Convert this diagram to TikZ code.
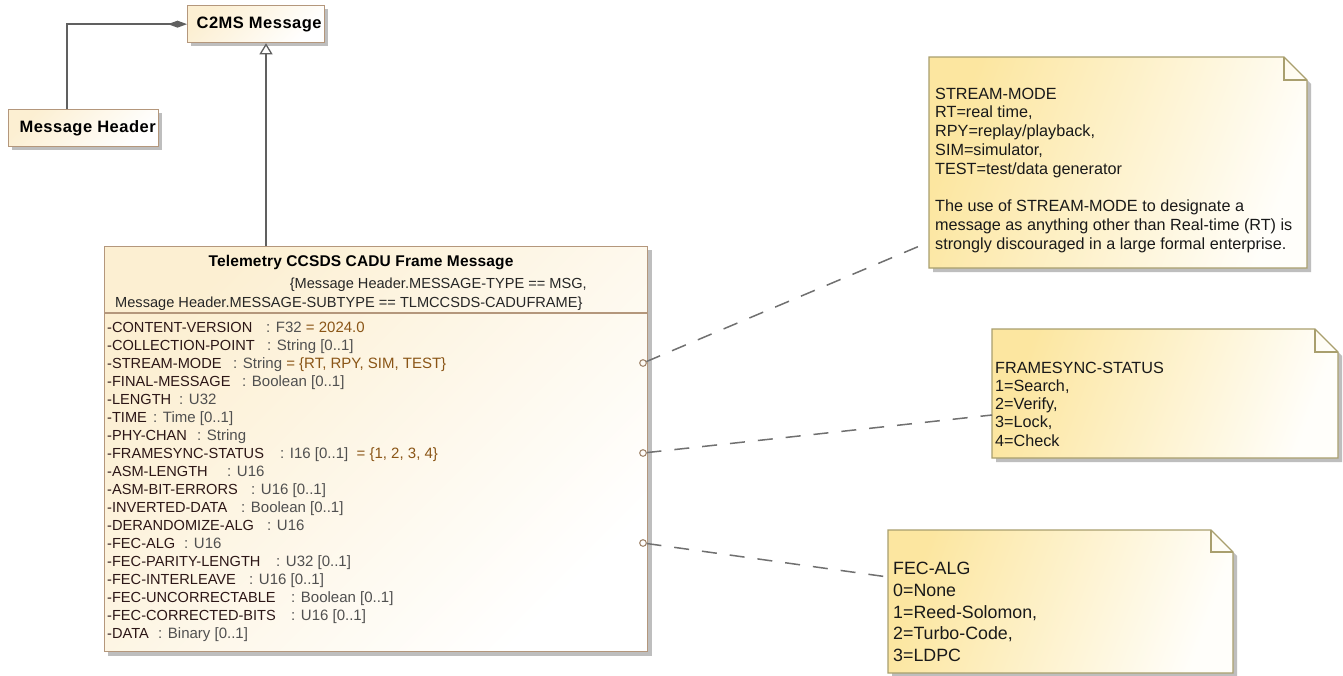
\documentclass[tikz,border=0pt]{standalone}
\usepackage{fontspec}
\setmainfont{Liberation Sans}
\usetikzlibrary{arrows.meta,calc}

\definecolor{clsborder}{HTML}{B4977C}
\definecolor{clsfill}{HTML}{FCEFD2}
\definecolor{notefill}{HTML}{FCE6A0}
\definecolor{notewhite}{HTML}{FFFEFA}
\definecolor{noteborder}{HTML}{A99F6E}
\definecolor{linegray}{HTML}{606060}
\definecolor{attrname}{HTML}{2C1616}
\definecolor{attrtype}{HTML}{505050}
\definecolor{attrval}{HTML}{8A5516}
\definecolor{shadowgray}{HTML}{BEBEBE}

\tikzset{
  classbox/.style={draw=clsborder, line width=1.3pt, top color=clsfill,
    bottom color=white, shading angle=45, inner sep=0pt, anchor=north west},
  boxtitle/.style={font=\fontsize{16.5}{19}\selectfont\bfseries\addfontfeature{LetterSpace=3}, text=black},
  clsline/.style={draw=clsborder, line width=1.3pt},
  attrn/.style={anchor=base west, inner sep=0pt, text=attrname,
    font=\fontsize{14.6}{18}\selectfont},
  attrt/.style={anchor=base west, inner sep=0pt, text=attrtype,
    font=\fontsize{15}{18}\selectfont},
  constr/.style={inner sep=0pt, text=black!85,
    font=\fontsize{14.6}{18}\selectfont},
  notebody/.style={draw=noteborder, line width=1.3pt, top color=notefill,
    bottom color=notewhite, shading angle=70},
  noteline/.style={draw=noteborder, line width=1.3pt},
  notetext/.style={anchor=north west, inner sep=0pt, align=left, text=black!90},
  conn/.style={draw=linegray, line width=1.8pt},
  gen/.style={conn, -{Triangle[open, length=11pt, width=13pt, line width=1.3pt, fill=white]}},
  comp/.style={conn, -{Diamond[length=19pt, width=7pt]}},
  notelink/.style={draw=linegray!90, line width=1.5pt, dash pattern=on 15pt off 13pt,
    shorten <=3.5pt},
  port/.style={draw=clsborder!90!black, line width=1.1pt},
}

% attribute row: id, baseline y, name, x of the colon, type and value
\newcommand\umlattr[5]{%
  \node[attrn] (an#1) at (107,#2) {#3};
  \node[attrt] (at#1) at (#4,#2) {#5};
}
\newcommand\val[1]{\textcolor{attrval}{#1}}

% note with a folded corner: name, x1, y1, x2, y2, fold size
\newcommand\umlnote[6]{%
  \fill[shadowgray] ({#2+4},{#3+4}) -- ({#4+4-#6},{#3+4}) -- ({#4+4},{#3+4+#6})
    -- ({#4+4},{#5+4}) -- ({#2+4},{#5+4}) -- cycle;
  \path[notebody] (#2,#3) coordinate (#1nw) -- ({#4-#6},#3) -- (#4,{#3+#6})
    -- (#4,#5) coordinate (#1se) -- (#2,#5) -- cycle;
  \draw[noteline] ({#4-#6},#3) -- ({#4-#6},{#3+#6}) -- (#4,{#3+#6});
}

\begin{document}
\begin{tikzpicture}[x=1pt, y=-1pt]
\useasboundingbox (0,0) rectangle (1343,675);
\fill[white] (0,0) rectangle (1343,675);

% ---- class boxes ----
\fill[shadowgray] (191,9) rectangle (328,46);
\node[classbox, minimum width=137pt, minimum height=37pt] (c2) at (187,5) {};
\node[boxtitle] (c2t) at ($(c2.center)+(3,0)$) {C2MS Message};

\fill[shadowgray] (12,113) rectangle (162,150);
\node[classbox, minimum width=150pt, minimum height=37pt] (mh) at (8,109) {};
\node[boxtitle] (mht) at ($(mh.center)+(4,0)$) {Message Header};

\fill[shadowgray] (108,250) rectangle (652,656);
\node[classbox, minimum width=543pt, minimum height=405pt] (cls) at (104,246) {};
\draw[clsline] ($(cls.north west)+(0,67)$) -- ($(cls.north east)+(0,67)$);

\node[anchor=base, text=black, font=\fontsize{15.5}{19}\selectfont\bfseries\addfontfeature{LetterSpace=1}]
  (clst) at (361,266.5) {Telemetry CCSDS CADU Frame Message};
\node[constr, anchor=base east] (cons1) at (587,288)
  {\{Message Header.MESSAGE-TYPE == MSG,};
\node[constr, anchor=base west] (cons2) at (115,307)
  {Message Header.MESSAGE-SUBTYPE == TLMCCSDS-CADUFRAME\}};

% ---- attributes ----
\umlattr{1}{332}{-CONTENT-VERSION}{266}{: F32 \val{= 2024.0}}
\umlattr{2}{350}{-COLLECTION-POINT}{267}{: String [0..1]}
\umlattr{3}{368}{-STREAM-MODE}{233}{: String \val{= \{RT, RPY, SIM, TEST\}}}
\umlattr{4}{386}{-FINAL-MESSAGE}{242}{: Boolean [0..1]}
\umlattr{5}{404}{-LENGTH}{179}{: U32}
\umlattr{6}{422}{-TIME}{153}{: Time [0..1]}
\umlattr{7}{440}{-PHY-CHAN}{197}{: String}
\umlattr{8}{458}{-FRAMESYNC-STATUS}{280}{: I16 [0..1]\ \ \val{= \{1, 2, 3, 4\}}}
\umlattr{9}{476}{-ASM-LENGTH}{227}{: U16}
\umlattr{10}{494}{-ASM-BIT-ERRORS}{251}{: U16 [0..1]}
\umlattr{11}{512}{-INVERTED-DATA}{241}{: Boolean [0..1]}
\umlattr{12}{530}{-DERANDOMIZE-ALG}{267}{: U16}
\umlattr{13}{548}{-FEC-ALG}{184}{: U16}
\umlattr{14}{566}{-FEC-PARITY-LENGTH}{276}{: U32 [0..1]}
\umlattr{15}{584}{-FEC-INTERLEAVE}{249}{: U16 [0..1]}
\umlattr{16}{602}{-FEC-UNCORRECTABLE}{291}{: Boolean [0..1]}
\umlattr{17}{620}{-FEC-CORRECTED-BITS}{291}{: U16 [0..1]}
\umlattr{18}{638}{-DATA}{158}{: Binary [0..1]}

% ---- relations between classes ----
\draw[comp] ($(mh.north west)+(59,0)$) |- (c2.west);
\draw[gen] ($(cls.north west)+(162,0)$) -- ($(c2.south west)+(79,0)$);

% ---- notes ----
\umlnote{n1}{929}{57}{1307}{268}{23}
\node[notetext, font=\fontsize{16.2}{18.75}\selectfont] (n1t) at (935,87.5)
  {STREAM-MODE\\RT=real time,\\RPY=replay/playback,\\SIM=simulator,\\TEST=test/data generator\\[18.75pt]
   The use of STREAM-MODE to designate a\\message as anything other than Real-time (RT) is\\strongly discouraged in a large formal enterprise.};

\umlnote{n2}{992}{329}{1338}{458}{23}
\node[notetext, font=\fontsize{16.2}{18.25}\selectfont] (n2t) at (995,361.5)
  {FRAMESYNC-STATUS\\1=Search,\\2=Verify,\\3=Lock,\\4=Check};

\umlnote{n3}{888}{530}{1233}{673}{22}
\node[notetext, font=\fontsize{17.8}{21.75}\selectfont] (n3t) at (893,562)
  {FEC-ALG\\0=None\\1=Reed-Solomon,\\2=Turbo-Code,\\3=LDPC};

% ---- attribute ports and note anchors ----
\coordinate (p1) at (643,363);
\coordinate (p2) at (643,453);
\coordinate (p3) at (643,543);
\coordinate (n1a) at (929,242);
\coordinate (n2a) at (992,415);
\coordinate (n3a) at (888,577);

\draw[notelink] (p1) -- (n1a);
\draw[notelink] (p2) -- (n2a);
\draw[notelink] (p3) -- (n3a);
\draw[port] (p1) circle (3.3pt);
\draw[port] (p2) circle (3.3pt);
\draw[port] (p3) circle (3.3pt);
\end{tikzpicture}
\end{document}
